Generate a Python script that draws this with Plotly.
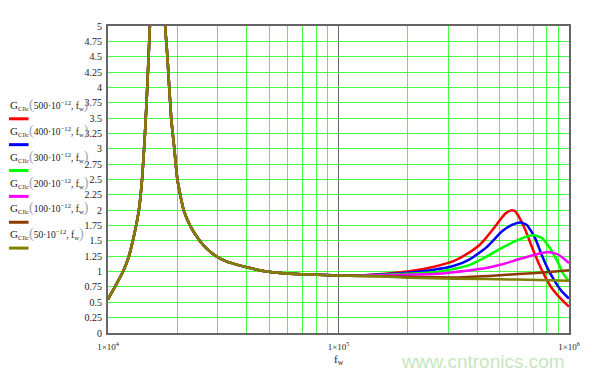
import plotly.graph_objects as go

# ---- data ----
# shared low-frequency part (all six curves coincide), Hz -> gain
f_low = [1.0e4, 1.071e4, 1.162e4, 1.232e4, 1.281e4, 1.3245e4, 1.3614e4, 1.405e4, 1.447e4, 1.48e4, 1.5195e4, 1.554e4,
         None,
         1.73e4, 1.77e4, 1.81e4, 1.88e4, 1.94e4, 2.0e4, 2.13e4, 2.27e4, 2.505e4, 2.69e4, 2.947e4, 3.24e4, 3.645e4,
         4.223e4, 4.892e4, 5.95e4, 7.98e4, 1.0e5]
g_low = [0.55, 0.75, 1.00, 1.25, 1.50, 1.75, 2.00, 2.50, 3.25, 4.00, 5.00, 6.00,
         None,
         6.00, 5.00, 4.50, 3.50, 3.00, 2.50, 2.00, 1.75, 1.50, 1.37, 1.25, 1.17, 1.11,
         1.05, 1.00, 0.97, 0.95, 0.935]

# high-frequency part, one list per capacitance value
f_red = [1.3e5, 1.6e5, 2.0e5, 2.6e5, 3.15e5, 3.58e5, 4.08e5, 4.37e5, 4.66e5, 4.97e5, 5.31e5, 5.63e5, 5.85e5,
         6.05e5, 6.46e5, 6.89e5, 7.36e5, 7.85e5, 8.38e5, 8.95e5, 9.86e5, 1.0e6]
g_red = [0.94, 0.965, 1.00, 1.08, 1.17, 1.28, 1.43, 1.55, 1.68, 1.82, 1.95, 2.00, 1.98,
         1.90, 1.68, 1.41, 1.15, 0.93, 0.74, 0.61, 0.45, 0.43]

f_blue = [1.3e5, 1.6e5, 2.0e5, 2.6e5, 3.15e5, 3.71e5, 4.37e5, 5.14e5, 5.66e5, 6.15e5, 6.56e5, 7.12e5, 7.6e5,
          8.11e5, 8.66e5, 9.25e5, 1.0e6]
g_blue = [0.94, 0.955, 0.98, 1.03, 1.09, 1.20, 1.39, 1.66, 1.76, 1.80, 1.76, 1.55, 1.28,
          1.04, 0.85, 0.69, 0.56]

f_green = [1.3e5, 1.6e5, 2.0e5, 2.6e5, 3.15e5, 3.71e5, 4.37e5, 5.14e5, 6.05e5, 7.0e5, 7.6e5, 8.18e5, 8.95e5,
           9.46e5, 1.0e6]
g_green = [0.935, 0.95, 0.965, 0.99, 1.04, 1.11, 1.24, 1.39, 1.52, 1.59, 1.55, 1.41, 1.15,
           0.96, 0.85]

f_magenta = [1.3e5, 1.6e5, 2.0e5, 2.6e5, 3.15e5, 4.37e5, 5.14e5, 6.05e5, 7.36e5, 8.11e5, 8.95e5, 1.0e6]
g_magenta = [0.935, 0.94, 0.95, 0.96, 0.99, 1.06, 1.12, 1.20, 1.29, 1.32, 1.28, 1.14]

f_brown = [1.5e5, 2.0e5, 3.15e5, 4.5e5, 6.0e5, 8.0e5, 1.0e6]
g_brown = [0.925, 0.915, 0.905, 0.93, 0.96, 0.99, 1.02]

f_olive = [1.5e5, 2.0e5, 3.15e5, 6.0e5, 1.0e6]
g_olive = [0.925, 0.90, 0.885, 0.87, 0.85]

series_names = ["500", "400", "300", "200", "100", "50"]
series_colors = ["#FF0000", "#0000FF", "#00FF00", "#FF00FF", "#8B3A00", "#808000"]
series_f = [f_red, f_blue, f_green, f_magenta, f_brown, f_olive]
series_g = [g_red, g_blue, g_green, g_magenta, g_brown, g_olive]

y_ticks = [0, 0.25, 0.5, 0.75, 1, 1.25, 1.5, 1.75, 2, 2.25, 2.5, 2.75, 3, 3.25, 3.5, 3.75,
           4, 4.25, 4.5, 4.75, 5]
y_ticktext = ["0", "0.25", "0.5", "0.75", "1", "1.25", "1.5", "1.75", "2", "2.25", "2.5", "2.75",
              "3", "3.25", "3.5", "3.75", "4", "4.25", "4.5", "4.75", "5"]
x_ticks = [1e4, 1e5, 1e6]
x_ticktext = ["1×10<sup>4</sup>", "1×10<sup>5</sup>", "1×10<sup>6</sup>"]
x_minor = [m * 10 ** e for e in (4, 5) for m in range(2, 10)]

# ---- figure ----
SERIF = "Liberation Serif, Times New Roman, serif"
GRID = "#44FF44"
AXIS = "#666666"

fig = go.Figure()
for name, col, fx, gy in zip(series_names, series_colors, series_f, series_g):
    fig.add_trace(go.Scatter(
        x=f_low + fx, y=g_low + gy, mode="lines", name=name,
        line=dict(color=col, width=2.5, shape="spline", smoothing=0.5),
        connectgaps=False, showlegend=False, hoverinfo="skip"))

# the page body has an 8px default margin, so the figure is 8px smaller each way
fig.update_layout(
    width=584, height=369,
    margin=dict(l=100, r=14, t=14, b=44),
    paper_bgcolor="white", plot_bgcolor="white",
    font=dict(family=SERIF, size=10, color="#222222"),
)
fig.update_xaxes(
    type="log", range=[4, 6],
    tickmode="array", tickvals=x_ticks, ticktext=x_ticktext,
    showgrid=True, gridcolor=AXIS, gridwidth=1,
    minor=dict(tickmode="array", tickvals=x_minor, showgrid=True, gridcolor=GRID, gridwidth=1, ticks=""),
    showline=True, linecolor=AXIS, linewidth=2, mirror=True,
    ticks="", ticklabelstandoff=4, zeroline=False,
    tickfont=dict(family=SERIF, size=9, color="#222222"),
)
fig.update_yaxes(
    range=[0, 5],
    tickmode="array", tickvals=y_ticks, ticktext=y_ticktext,
    showgrid=True, gridcolor=GRID, gridwidth=1,
    showline=True, linecolor=AXIS, linewidth=2, mirror=True,
    ticks="", ticklabelstandoff=2, zeroline=False,
    tickfont=dict(family=SERIF, size=10, color="#222222"),
)

# legend: text above a short coloured line, Mathcad style
PX_W, PX_H = 470.0, 311.0
paren = "<span style='font-size:14px;color:#9aa6b8'>{}</span>"
for i, (name, col) in enumerate(zip(series_names, series_colors)):
    line_y = 116 + 26.2 * i
    text_y = line_y - 14
    label = ("<span style='font-size:11px'>G</span><sub>Cllc</sub>" + paren.format("(") + name
             + "·10<sup>−12</sup>, f<sub>w</sub>" + paren.format(")"))
    fig.add_annotation(text=label, xref="paper", yref="paper",
                       x=(6 - 108) / PX_W, y=(333 - text_y) / PX_H,
                       xanchor="left", yanchor="middle", showarrow=False,
                       font=dict(family=SERIF, size=9.5, color="#222222"))
    fig.add_shape(type="line", xref="paper", yref="paper",
                  x0=(7 - 108) / PX_W, x1=(27 - 108) / PX_W,
                  y0=(333 - line_y) / PX_H, y1=(333 - line_y) / PX_H,
                  line=dict(color=col, width=3))

# axis title
fig.add_annotation(text="f<sub>w</sub>", xref="paper", yref="paper",
                   x=0.5, y=(333 - 360) / PX_H, xanchor="center", yanchor="middle",
                   showarrow=False, font=dict(family=SERIF, size=11, color="#222222"))
# watermark
fig.add_annotation(text="www.cntronics.com", xref="paper", yref="paper",
                   x=(490 - 108) / PX_W, y=(333 - 362) / PX_H, xanchor="center", yanchor="middle",
                   showarrow=False, font=dict(family="Liberation Sans, Arial, sans-serif", size=19,
                                              color="#C8E6C0"))

fig.write_html("out.html")
